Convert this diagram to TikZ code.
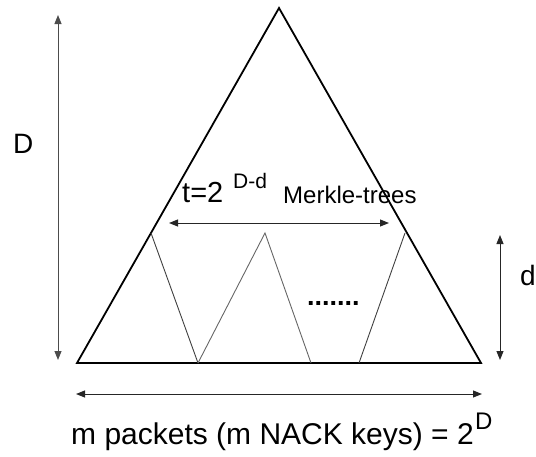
\documentclass[tikz,border=0pt]{standalone}
\usepackage{fontspec}
\setmainfont{Liberation Sans}
\usetikzlibrary{arrows.meta}
\begin{document}
\begin{tikzpicture}[x=1pt,y=-1pt,
  outline/.style={line width=1.8pt,black,line join=miter},
  inner/.style={line width=0.9pt,black!75},
  dim/.style={line width=1pt,black!85,{Triangle[length=9pt,width=7pt]}-{Triangle[length=9pt,width=7pt]}},
  lbl/.style={inner sep=0pt,anchor=base west}]
\useasboundingbox (0,0) rectangle (536,456);
% big triangle
\coordinate (A) at (279,8);
\coordinate (BL) at (77,363);
\coordinate (BR) at (481,363);
\draw[outline] (BL) -- (A) -- (BR) -- cycle;
% inner sub-trees
\coordinate (l1) at (151,233);
\coordinate (b1) at (198,363);
\coordinate (a2) at (265,233);
\coordinate (b2) at (311,363);
\coordinate (b3) at (359,363);
\coordinate (a3) at (405,233);
\draw[inner] (l1) -- (b1);
\draw[inner,black!60] (b1) -- (a2) -- (b2);
\draw[inner] (b3) -- (a3);
\node[lbl,font=\fontsize{27}{30}\bfseries] (dots) at (307,305) {.......};
% dimension arrows
\coordinate (Dt) at (58,15);
\coordinate (Db) at (58,360);
\draw[dim,black!70] (Dt) -- (Db);
\node[lbl,font=\fontsize{28}{32}\selectfont] (Dl) at (13,153) {D};
\coordinate (dt) at (500,235);
\coordinate (db) at (500,360);
\draw[dim] (dt) -- (db);
\node[lbl,font=\fontsize{28}{32}\selectfont] (dl) at (520,285) {d};
\coordinate (hl) at (169,223);
\coordinate (hr) at (389,223);
\draw[dim] (hl) -- (hr);
\coordinate (ml) at (76,394);
\coordinate (mr) at (482,394);
\draw[dim] (ml) -- (mr);
% labels
\node[lbl,font=\fontsize{29}{32}\selectfont] (t) at (182,202) {t=2};
\node[lbl,font=\fontsize{21}{24}\selectfont] (tsup) at (233,188) {D-d};
\node[lbl,font=\fontsize{24}{28}\selectfont] (mt) at (283,203) {Merkle-trees};
\node[lbl,font=\fontsize{30}{34}\selectfont] (m) at (71,444) {m packets (m NACK keys) = 2};
\node[lbl,font=\fontsize{24}{28}\selectfont] (msup) at (m.base east) [yshift=15pt,xshift=1pt] {D};
\end{tikzpicture}
\end{document}
